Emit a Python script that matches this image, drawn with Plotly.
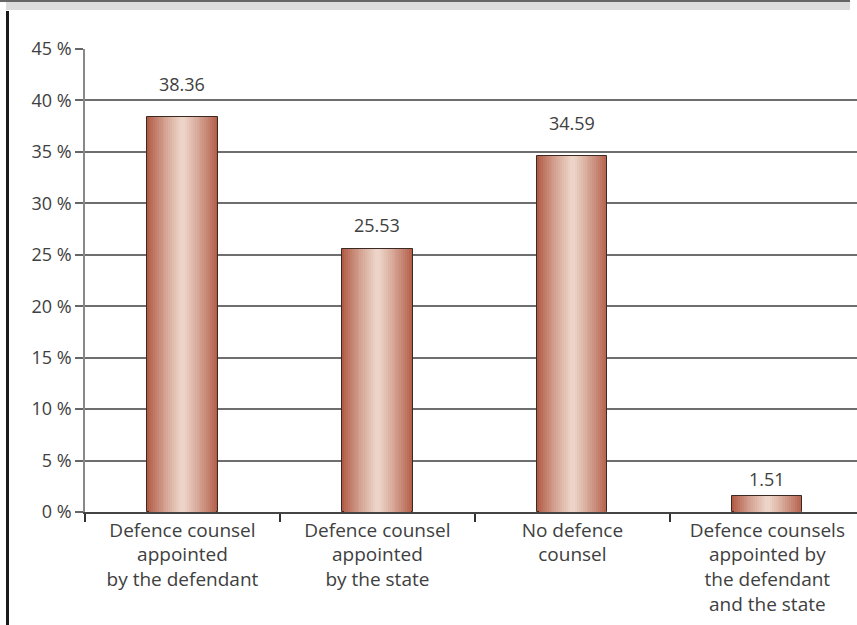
import plotly.graph_objects as go

categories = [
    "Defence counsel<br>appointed<br>by the defendant",
    "Defence counsel<br>appointed<br>by the state",
    "No defence<br>counsel",
    "Defence counsels<br>appointed by<br>the defendant<br>and the state",
]
values = [38.36, 25.53, 34.59, 1.51]
value_labels = ["38.36", "25.53", "34.59", "1.51"]
ytick_vals = [0, 5, 10, 15, 20, 25, 30, 35, 40, 45]
ytick_text = [f"{v} %" for v in ytick_vals]

# label offsets above bar tops (pixels) as in the original layout
label_shift = [33, 24, 33, 17]

FONT = "'Open Sans', Lato, sans-serif"
TEXT = "#404040"

edge = (178, 92, 70)
center = (236, 212, 200)
n_layers = 18
bar_w = 0.36

fig = go.Figure()
for i in range(n_layers):
    t = i / (n_layers - 1)
    t2 = t ** 0.85
    col = tuple(round(edge[k] + (center[k] - edge[k]) * t2) for k in range(3))
    w = bar_w * (1 - t * 0.92)
    fig.add_trace(go.Bar(
        x=categories, y=values, width=w,
        marker=dict(color=f"rgb{col}",
                    line=dict(color="#3b2a24" if i == 0 else f"rgb{col}", width=1 if i == 0 else 0)),
        hoverinfo="skip", showlegend=False,
    ))

for c, v, lab, s in zip(categories, values, value_labels, label_shift):
    fig.add_annotation(x=c, y=v, text=lab, showarrow=False, yshift=s, yanchor="middle",
                       font=dict(family=FONT, size=18, color=TEXT))

W, H = 857, 625
L, R, T, B = 85, 0, 49, 113
pw, ph = W - L - R, H - T - B

def px(x):
    return (x - L) / pw

def py(y):
    return (H - B - y) / ph

shapes = [
    dict(type="rect", xref="paper", yref="paper", x0=px(6), x1=px(850), y0=py(10), y1=py(1),
         fillcolor="#dcdcdd", line=dict(width=0), layer="above"),
    dict(type="line", xref="paper", yref="paper", x0=px(0), x1=px(850), y0=py(1), y1=py(1),
         line=dict(color="#666666", width=2), layer="above"),
    dict(type="line", xref="paper", yref="paper", x0=px(7.5), x1=px(7.5), y0=py(11), y1=py(625),
         line=dict(color="#1a1a1a", width=3), layer="above"),
]

fig.update_layout(
    width=W, height=H,
    margin=dict(l=L, r=R, t=T, b=B, pad=0),
    paper_bgcolor="white", plot_bgcolor="white",
    barmode="overlay", bargap=0,
    font=dict(family=FONT, size=18, color=TEXT),
    shapes=shapes,
    xaxis=dict(
        type="category", range=[-0.5, 3.46], tickson="boundaries",
        ticks="outside", ticklen=8, tickwidth=1.5, tickcolor="#333333",
        showline=True, linecolor="#444444", linewidth=1.5,
        showgrid=False, tickfont=dict(family=FONT, size=19, color=TEXT),
        fixedrange=True, automargin=False,
    ),
    yaxis=dict(
        range=[0, 45], tickvals=ytick_vals, ticktext=ytick_text,
        ticks="outside", ticklen=8, tickwidth=1.5, tickcolor="#666666",
        showline=True, linecolor="#888888", linewidth=1.5,
        showgrid=True, gridcolor="#6e6e6e", gridwidth=1.5,
        zeroline=False, tickfont=dict(family=FONT, size=18, color=TEXT),
        fixedrange=True, automargin=False,
    ),
)

fig.write_html("out.html", config={"displayModeBar": False},
               post_script="document.body.style.margin='0';document.body.style.overflow='hidden';")
